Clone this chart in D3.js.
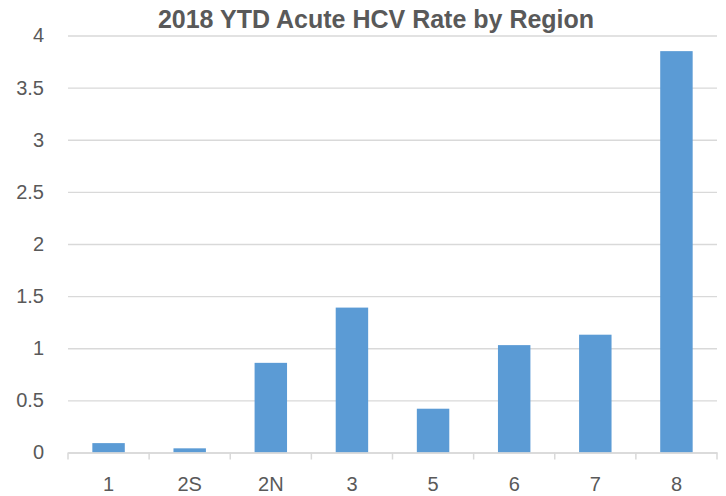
<html>
<head>
<script src="https://cdnjs.cloudflare.com/ajax/libs/d3/7.8.5/d3.min.js"></script>
<style>
  body { margin: 0; background: #fff; }
  text { font-family: "Liberation Sans", Arial, sans-serif; fill: #595959; }
</style>
</head>
<body>
<svg width="726" height="496"></svg>
<script>
var regions = ["1", "2S", "2N", "3", "5", "6", "7", "8"];
var rates = [0.09, 0.04, 0.86, 1.39, 0.42, 1.03, 1.13, 3.85];
var yTicks = [0, 0.5, 1, 1.5, 2, 2.5, 3, 3.5, 4];

var svg = d3.select("svg");
var plotLeft = 68, plotRight = 717, plotTop = 35.5, plotBottom = 452.5;

var x = d3.scaleBand().domain(regions).range([plotLeft, plotRight]).paddingInner(0.6).paddingOuter(0.3);
var xTick = d3.scaleBand().domain(regions).range([plotLeft, plotRight]);
var y = d3.scaleLinear().domain([0, 4]).range([plotBottom, plotTop]);

// gridlines + y labels
var yAxis = d3.axisLeft(y).tickValues(yTicks).tickSize(-(plotRight - plotLeft)).tickFormat(d3.format(""));
var gy = svg.append("g").attr("transform", "translate(" + plotLeft + ",0)").call(yAxis);
gy.select(".domain").remove();
gy.selectAll("line").attr("stroke", "#d9d9d9").attr("stroke-width", 1.3);
gy.selectAll("text").attr("x", -24).attr("font-size", 20).attr("fill", "#595959");

// bars
svg.selectAll("rect.bar").data(rates).enter().append("rect")
  .attr("class", "bar")
  .attr("x", (d, i) => x(regions[i]))
  .attr("width", x.bandwidth())
  .attr("y", d => y(d))
  .attr("height", d => y(0) - y(d))
  .attr("fill", "#5b9bd5");

// x axis
var xAxis = d3.axisBottom(xTick).tickSize(0);
var gx = svg.append("g").attr("transform", "translate(0," + plotBottom + ")").call(xAxis);
gx.select(".domain").attr("stroke", "#d9d9d9").attr("stroke-width", 1.5);
gx.selectAll("text").attr("font-size", 20).attr("fill", "#595959").attr("dy", 0).attr("y", 38);

// category boundary ticks
svg.append("g").selectAll("line").data(regions.concat(["end"])).enter().append("line")
  .attr("x1", (d, i) => i < regions.length ? xTick(d) : plotRight)
  .attr("x2", (d, i) => i < regions.length ? xTick(d) : plotRight)
  .attr("y1", plotBottom).attr("y2", plotBottom + 7)
  .attr("stroke", "#d9d9d9").attr("stroke-width", 1.5);

svg.append("text").attr("x", 376).attr("y", 28).attr("text-anchor", "middle")
  .attr("font-size", 25).attr("font-weight", "bold").attr("fill", "#595959")
  .text("2018 YTD Acute HCV Rate by Region");
</script>
</body>
</html>
